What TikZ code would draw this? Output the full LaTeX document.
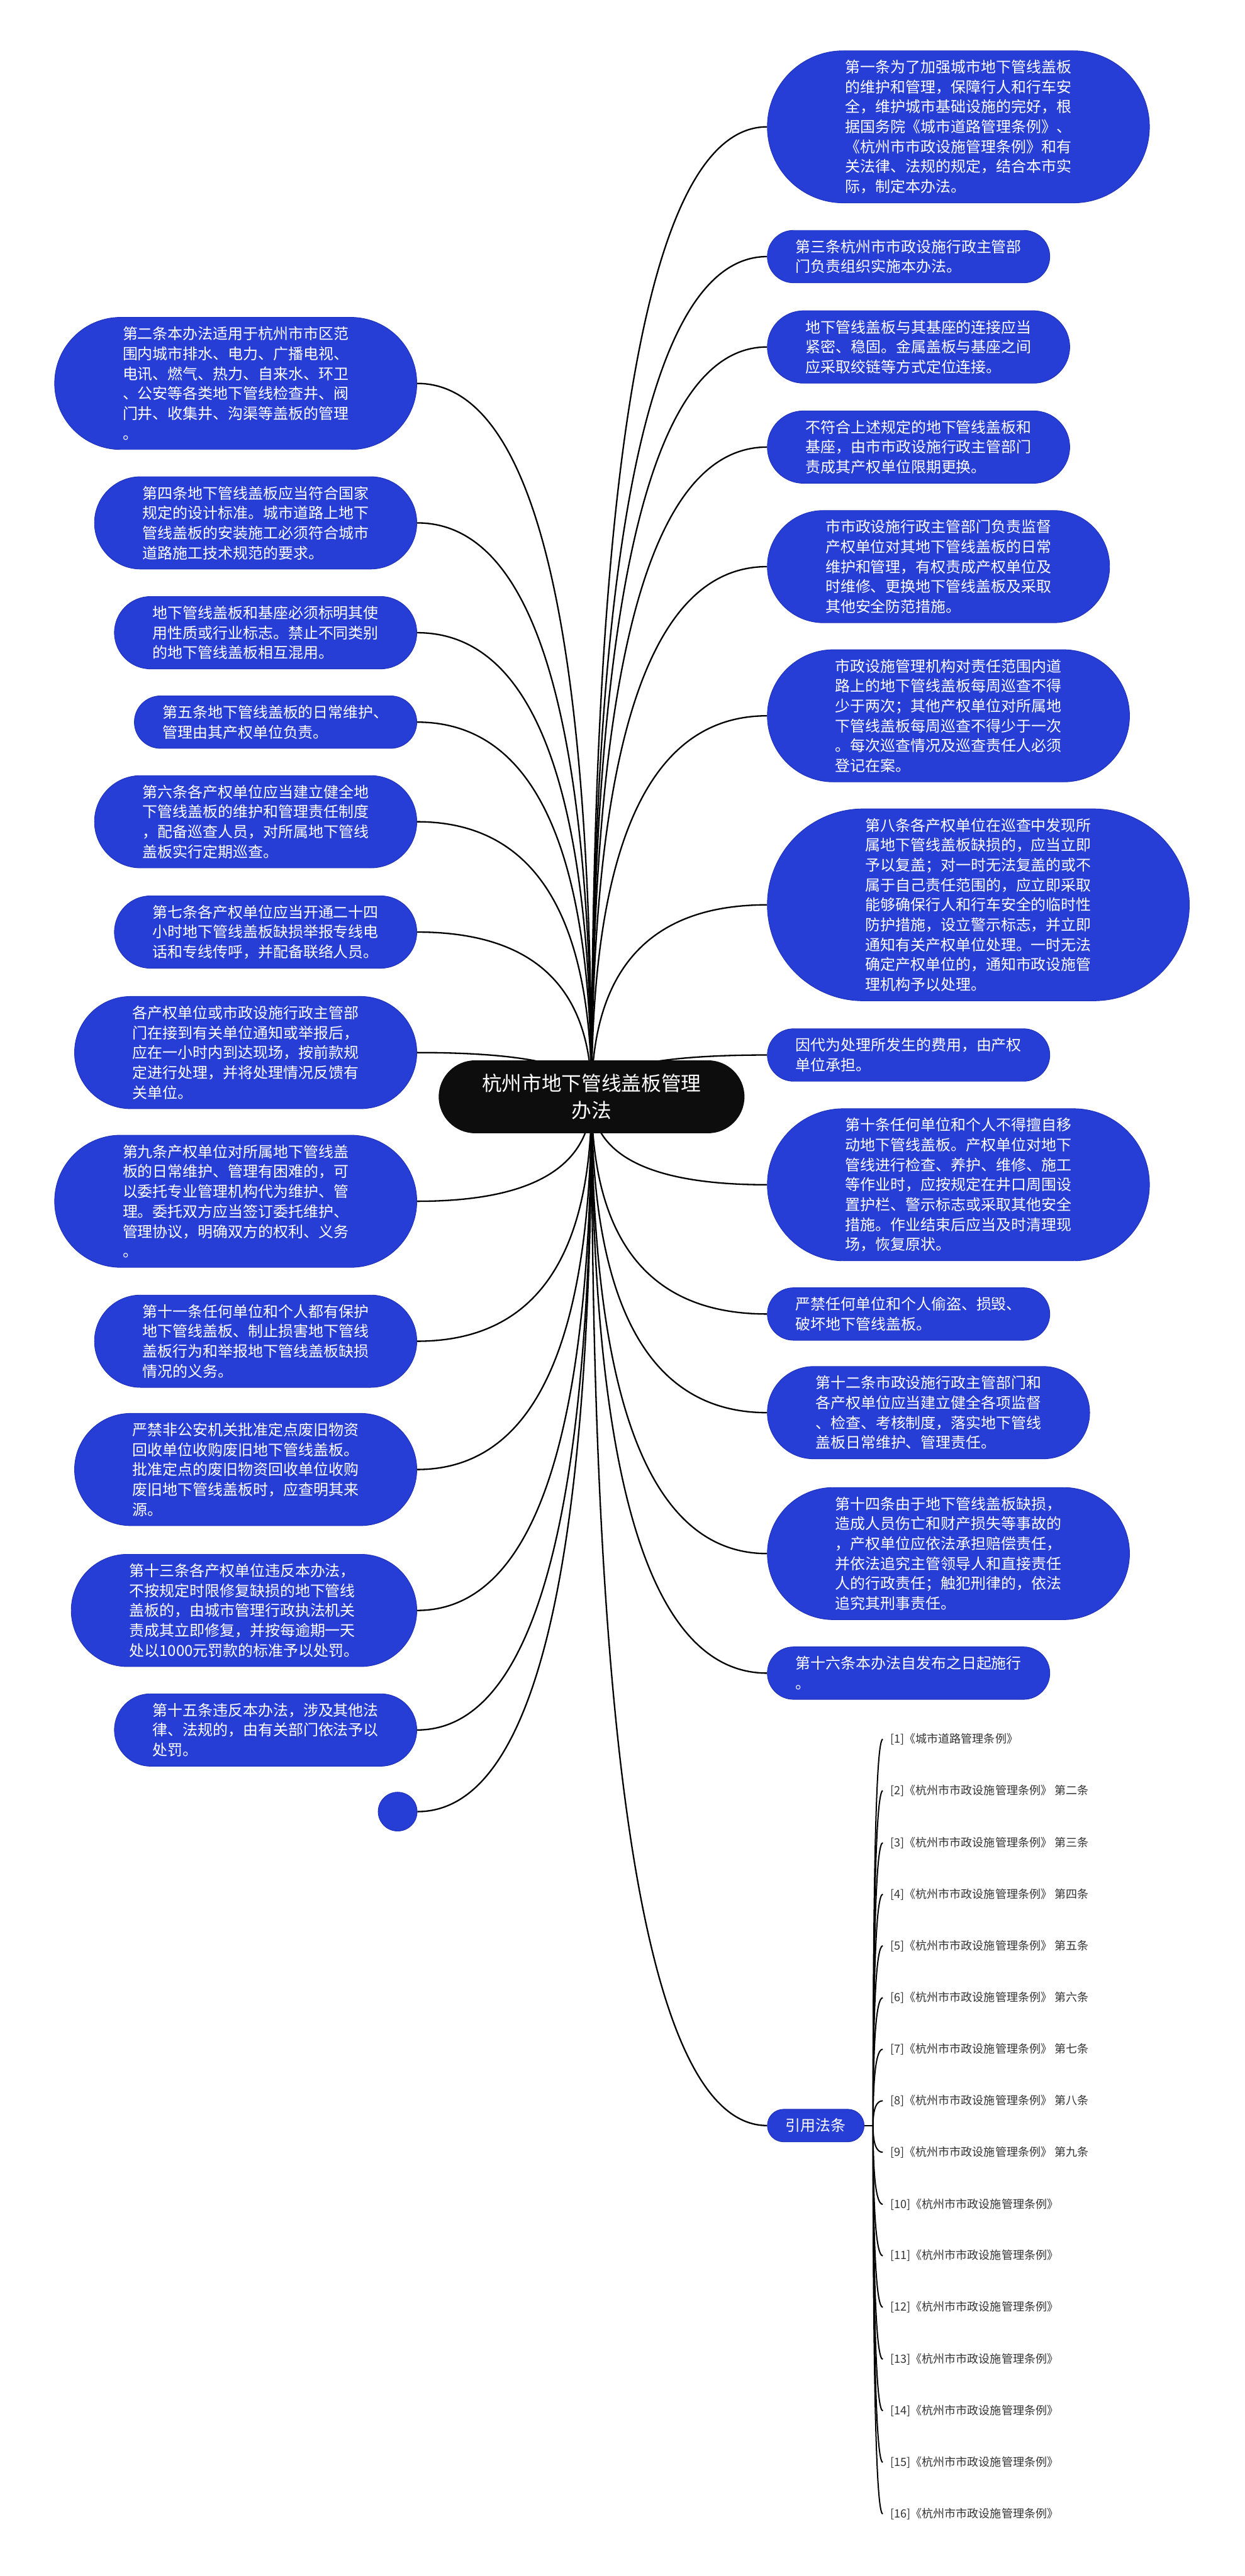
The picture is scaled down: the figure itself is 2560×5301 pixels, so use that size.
\documentclass[tikz,border=0pt]{standalone}
\usepackage{fontspec}
\newfontfamily\cjk{Noto Sans CJK SC}
\usetikzlibrary{backgrounds,calc}
\definecolor{nodeblue}{RGB}{38,62,214}
\definecolor{nodeedge}{RGB}{30,48,185}
\definecolor{reftext}{RGB}{51,51,51}
\begin{document}
\begin{tikzpicture}[x=0.5pt,y=-0.5pt,
  leaf/.style={rectangle, fill=nodeblue, draw=nodeedge, line width=0.6pt, text=white, align=left,
    minimum height={(20.5*#1+13)*1pt},
    rounded corners={(10.25*#1+6.5)*1pt-0.05pt},
    inner xsep={(10.25*#1+6.5)*1pt+2pt}, inner ysep=4pt,
    font=\cjk\fontsize{15.5}{20.5}\selectfont},
  rightleaf/.style={leaf=#1, anchor=west},
  leftleaf/.style={leaf=#1, anchor=east},
  rootnode/.style={rectangle, fill=black!95, text=white, align=center,
    minimum height=75pt, rounded corners=37.45pt, inner xsep=44.5pt, inner ysep=4pt,
    font=\cjk\fontsize{20.5}{27.5}\selectfont},
  reflabel/.style={anchor=west, inner xsep=7.5pt, inner ysep=2pt, text=reftext, font=\cjk\fontsize{11.7}{14}\selectfont},
  link/.style={draw=black, line width=1.5pt},
  reflink/.style={draw=black, line width=1.3pt}
]
\useasboundingbox (0,0) rectangle (2560,5301);

% root
\node[rootnode] (root) at (1217,2257) {杭州市地下管线盖板管理\\办法};

% right column
\node[rightleaf=7] (r1) at (1578,261) {第一条为了加强城市地下管线盖板\\的维护和管理，保障行人和行车安\\全，维护城市基础设施的完好，根\\据国务院《城市道路管理条例》、\\《杭州市市政设施管理条例》和有\\关法律、法规的规定，结合本市实\\际，制定本办法。};
\node[rightleaf=2] (r2) at (1578,528) {第三条杭州市市政设施行政主管部\\门负责组织实施本办法。};
\node[rightleaf=3] (r3) at (1578,714) {地下管线盖板与其基座的连接应当\\紧密、稳固。金属盖板与基座之间\\应采取绞链等方式定位连接。};
\node[rightleaf=3] (r4) at (1578,920) {不符合上述规定的地下管线盖板和\\基座，由市市政设施行政主管部门\\责成其产权单位限期更换。};
\node[rightleaf=5] (r5) at (1578,1166) {市市政设施行政主管部门负责监督\\产权单位对其地下管线盖板的日常\\维护和管理，有权责成产权单位及\\时维修、更换地下管线盖板及采取\\其他安全防范措施。};
\node[rightleaf=6] (r6) at (1578,1473) {市政设施管理机构对责任范围内道\\路上的地下管线盖板每周巡查不得\\少于两次；其他产权单位对所属地\\下管线盖板每周巡查不得少于一次\\。每次巡查情况及巡查责任人必须\\登记在案。};
\node[rightleaf=9] (r7) at (1578,1862) {第八条各产权单位在巡查中发现所\\属地下管线盖板缺损的，应当立即\\予以复盖；对一时无法复盖的或不\\属于自己责任范围的，应立即采取\\能够确保行人和行车安全的临时性\\防护措施，设立警示标志，并立即\\通知有关产权单位处理。一时无法\\确定产权单位的，通知市政设施管\\理机构予以处理。};
\node[rightleaf=2] (r8) at (1578,2171) {因代为处理所发生的费用，由产权\\单位承担。};
\node[rightleaf=7] (r9) at (1578,2438) {第十条任何单位和个人不得擅自移\\动地下管线盖板。产权单位对地下\\管线进行检查、养护、维修、施工\\等作业时，应按规定在井口周围设\\置护栏、警示标志或采取其他安全\\措施。作业结束后应当及时清理现\\场，恢复原状。};
\node[rightleaf=2] (r10) at (1578,2704) {严禁任何单位和个人偷盗、损毁、\\破坏地下管线盖板。};
\node[rightleaf=4] (r11) at (1578,2907) {第十二条市政设施行政主管部门和\\各产权单位应当建立健全各项监督\\、检查、考核制度，落实地下管线\\盖板日常维护、管理责任。};
\node[rightleaf=6] (r12) at (1578,3197) {第十四条由于地下管线盖板缺损，\\造成人员伤亡和财产损失等事故的\\，产权单位应依法承担赔偿责任，\\并依法追究主管领导人和直接责任\\人的行政责任；触犯刑律的，依法\\追究其刑事责任。};
\node[rightleaf=2] (r13) at (1578,3443) {第十六条本办法自发布之日起施行\\。};
\node[rightleaf=1] (r14) at (1578,4374) {引用法条};

% left column
\node[leftleaf=6] (l1) at (858,789) {第二条本办法适用于杭州市市区范\\围内城市排水、电力、广播电视、\\电讯、燃气、热力、自来水、环卫\\、公安等各类地下管线检查井、阀\\门井、收集井、沟渠等盖板的管理\\。};
\node[leftleaf=4] (l2) at (858,1076) {第四条地下管线盖板应当符合国家\\规定的设计标准。城市道路上地下\\管线盖板的安装施工必须符合城市\\道路施工技术规范的要求。};
\node[leftleaf=3] (l3) at (858,1302) {地下管线盖板和基座必须标明其使\\用性质或行业标志。禁止不同类别\\的地下管线盖板相互混用。};
\node[leftleaf=2] (l4) at (858,1486) {第五条地下管线盖板的日常维护、\\管理由其产权单位负责。};
\node[leftleaf=4] (l5) at (858,1691) {第六条各产权单位应当建立健全地\\下管线盖板的维护和管理责任制度\\，配备巡查人员，对所属地下管线\\盖板实行定期巡查。};
\node[leftleaf=3] (l6) at (858,1918) {第七条各产权单位应当开通二十四\\小时地下管线盖板缺损举报专线电\\话和专线传呼，并配备联络人员。};
\node[leftleaf=5] (l7) at (858,2166) {各产权单位或市政设施行政主管部\\门在接到有关单位通知或举报后，\\应在一小时内到达现场，按前款规\\定进行处理，并将处理情况反馈有\\关单位。};
\node[leftleaf=6] (l8) at (858,2472) {第九条产权单位对所属地下管线盖\\板的日常维护、管理有困难的，可\\以委托专业管理机构代为维护、管\\理。委托双方应当签订委托维护、\\管理协议，明确双方的权利、义务\\。};
\node[leftleaf=4] (l9) at (858,2760) {第十一条任何单位和个人都有保护\\地下管线盖板、制止损害地下管线\\盖板行为和举报地下管线盖板缺损\\情况的义务。};
\node[leftleaf=5] (l10) at (858,3024) {严禁非公安机关批准定点废旧物资\\回收单位收购废旧地下管线盖板。\\批准定点的废旧物资回收单位收购\\废旧地下管线盖板时，应查明其来\\源。};
\node[leftleaf=5] (l11) at (858,3314) {第十三条各产权单位违反本办法，\\不按规定时限修复缺损的地下管线\\盖板的，由城市管理行政执法机关\\责成其立即修复，并按每逾期一天\\处以1000元罚款的标准予以处罚。};
\node[leftleaf=3] (l12) at (858,3560) {第十五条违反本办法，涉及其他法\\律、法规的，由有关部门依法予以\\处罚。};
\node[circle, fill=nodeblue, draw=nodeedge, line width=0.6pt, minimum size=40pt, inner sep=0pt] (l13) at (818,3728) {};

% references
\node[reflabel] (f1) at (1816,3579) {[1]《城市道路管理条例》};
\node[reflabel] (f2) at (1816,3685) {[2]《杭州市市政设施管理条例》 第二条};
\node[reflabel] (f3) at (1816,3792) {[3]《杭州市市政设施管理条例》 第三条};
\node[reflabel] (f4) at (1816,3898) {[4]《杭州市市政设施管理条例》 第四条};
\node[reflabel] (f5) at (1816,4004) {[5]《杭州市市政设施管理条例》 第五条};
\node[reflabel] (f6) at (1816,4111) {[6]《杭州市市政设施管理条例》 第六条};
\node[reflabel] (f7) at (1816,4217) {[7]《杭州市市政设施管理条例》 第七条};
\node[reflabel] (f8) at (1816,4323) {[8]《杭州市市政设施管理条例》 第八条};
\node[reflabel] (f9) at (1816,4429) {[9]《杭州市市政设施管理条例》 第九条};
\node[reflabel] (f10) at (1816,4536) {[10]《杭州市市政设施管理条例》};
\node[reflabel] (f11) at (1816,4642) {[11]《杭州市市政设施管理条例》};
\node[reflabel] (f12) at (1816,4748) {[12]《杭州市市政设施管理条例》};
\node[reflabel] (f13) at (1816,4855) {[13]《杭州市市政设施管理条例》};
\node[reflabel] (f14) at (1816,4961) {[14]《杭州市市政设施管理条例》};
\node[reflabel] (f15) at (1816,5067) {[15]《杭州市市政设施管理条例》};
\node[reflabel] (f16) at (1816,5173) {[16]《杭州市市政设施管理条例》};
\coordinate (hub) at (1796,4374);

\begin{scope}[on background layer]
\fill[white] (0,0) rectangle (2560,5301);
\foreach \i in {1,...,14} {
  \draw[link] (root.center) .. controls ($(root.center)!0.6667!(root.center |- r\i.west)$) and ($(r\i.west)!0.6667!(root.center |- r\i.west)$) .. (r\i.west);
}
\foreach \i in {1,...,13} {
  \draw[link] (root.center) .. controls ($(root.center)!0.6667!(root.center |- l\i.east)$) and ($(l\i.east)!0.6667!(root.center |- l\i.east)$) .. (l\i.east);
}
\draw[link] (r14.east) -- (hub);
\foreach \i in {1,...,16} {
  \draw[reflink] (hub) .. controls ($(hub)!0.6667!(hub |- f\i.west)$) and ($(f\i.west)!0.6667!(hub |- f\i.west)$) .. (f\i.west);
}
\end{scope}
\end{tikzpicture}
\end{document}
